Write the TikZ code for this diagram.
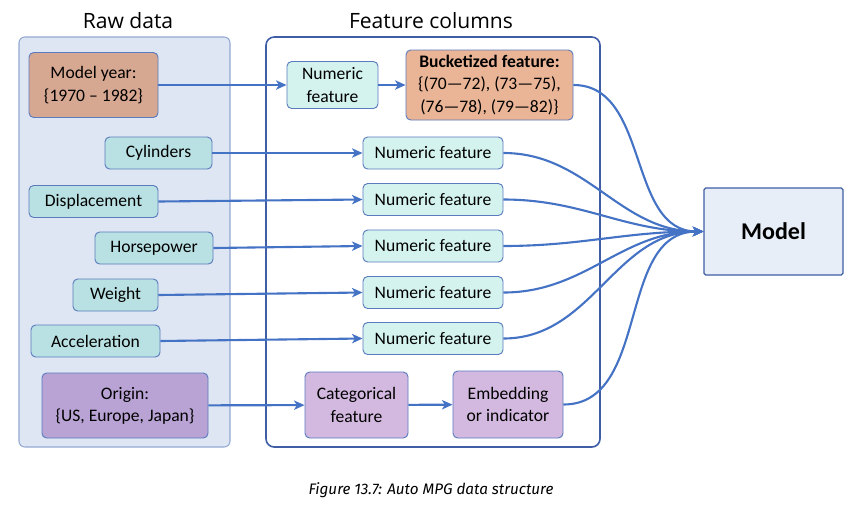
\documentclass[tikz,border=0pt]{standalone}
\usepackage{fontspec}
\setmainfont{Carlito}
\newfontfamily\titlefont{Open Sans}
\newfontfamily\capfont{Fira Sans}
\usetikzlibrary{arrows.meta, positioning}

\definecolor{linkblue}{HTML}{4472C4}
\definecolor{edgeblue}{HTML}{5A7BBE}
\definecolor{darkblue}{HTML}{3F5EA6}
\definecolor{panelfill}{HTML}{DFE6F3}
\definecolor{paneledge}{HTML}{93A8D3}
\definecolor{salmonraw}{HTML}{D6A791}
\definecolor{salmonfeat}{HTML}{EAB596}
\definecolor{tealraw}{HTML}{B9E1E3}
\definecolor{tealfeat}{HTML}{D4F3EE}
\definecolor{purpleraw}{HTML}{B9A3D5}
\definecolor{purplefeat}{HTML}{D3B9E0}
\definecolor{modelfill}{HTML}{E8EEF8}

\newcommand\pxl{0.03cm}

\begin{document}
\begin{tikzpicture}[x=0.03cm, y=-0.03cm, >={Stealth[length=9pt, width=8pt, inset=2.5pt]},
    box/.style={draw=edgeblue, line width=0.8pt, rounded corners=4pt, align=center,
        inner sep=0pt, font=\fontsize{15}{19}\selectfont},
    tealbox/.style={box, fill=tealraw, minimum height=32*\pxl},
    numbox/.style={box, fill=tealfeat, minimum height=32*\pxl, minimum width=140*\pxl},
    link/.style={->, linkblue, line width=1.8pt},
    title/.style={font=\titlefont\fontsize{18}{21}\selectfont}]

    \useasboundingbox (0,0) rectangle (868,518);

    % the two panels
    \draw[paneledge, fill=panelfill, line width=0.9pt, rounded corners=5pt] (19,37) rectangle (230,447);
    \draw[darkblue, line width=1.4pt, rounded corners=7pt] (266,37) rectangle (600,447);

    \node[title] (rawtitle) at (128,21) {Raw data};
    \node[title] (feattitle) at (431,21) {Feature columns};

    % raw data
    \node[box, fill=salmonraw, minimum width=129*\pxl, minimum height=65*\pxl] (year) at (93.5,85) {Model year:\\\{1970 -- 1982\}};
    \node[tealbox, minimum width=107*\pxl] (cyl) at (158.5,153) {Cylinders};
    \node[tealbox, minimum width=129*\pxl] (disp) at (93.5,201.5) {Displacement};
    \node[tealbox, minimum width=118*\pxl] (hp) at (154,248) {Horsepower};
    \node[tealbox, minimum width=85*\pxl] (weight) at (115.5,295) {Weight};
    \node[tealbox, minimum width=129*\pxl] (accel) at (95.5,341) {Acceleration};
    \node[box, fill=purpleraw, minimum width=166*\pxl, minimum height=65*\pxl] (origin) at (125,405.5) {Origin:\\\{US, Europe, Japan\}};

    % feature columns
    \node[box, fill=tealfeat, minimum width=91*\pxl, minimum height=47*\pxl] (num0) at (332.5,85) {Numeric\\feature};
    \node[box, fill=salmonfeat, minimum width=167*\pxl, minimum height=70*\pxl] (bucket) at (489.5,85) {\textbf{Bucketized feature:}\\\{(70---72), (73---75),\\(76---78), (79---82)\}};
    \node[numbox] (num1) at (433,153) {Numeric feature};
    \node[numbox] (num2) at (433,199.5) {Numeric feature};
    \node[numbox] (num3) at (433,246) {Numeric feature};
    \node[numbox] (num4) at (433,292.5) {Numeric feature};
    \node[numbox] (num5) at (433,338.5) {Numeric feature};
    \node[box, fill=purplefeat, minimum width=103*\pxl, minimum height=66*\pxl] (cat) at (356.5,405) {Categorical\\feature};
    \node[box, fill=purplefeat, minimum width=110*\pxl, minimum height=67*\pxl] (embed) at (508,404.5) {Embedding\\or indicator};

    \node[draw=darkblue, fill=modelfill, line width=1pt, rounded corners=1.5pt,
        minimum width=139*\pxl, minimum height=87*\pxl,
        font=\bfseries\fontsize{20.5}{24}\selectfont] (model) at (773.5,231.5) {Model};

    % raw data -> features
    \draw[link] (year) -- (num0);
    \draw[link] (num0) -- (bucket);
    \draw[link] (cyl) -- (num1);
    \draw[link] (disp.east) -- (num2.west);
    \draw[link] (hp.east) -- (num3.west);
    \draw[link] (weight.east) -- (num4.west);
    \draw[link] (accel.east) -- (num5.west);
    \draw[link] (origin) -- (cat);
    \draw[link] (cat) -- (embed);

    % features -> model
    \foreach \src in {bucket, num1, num2, num3, num4, num5, embed}
        \draw[link] (\src.east) to[out=0, in=180] (model.west);

    \node[font=\capfont\itshape\fontsize{13}{15}\selectfont] (caption) at (431,490) {Figure 13.7: Auto MPG data structure};

\end{tikzpicture}
\end{document}
